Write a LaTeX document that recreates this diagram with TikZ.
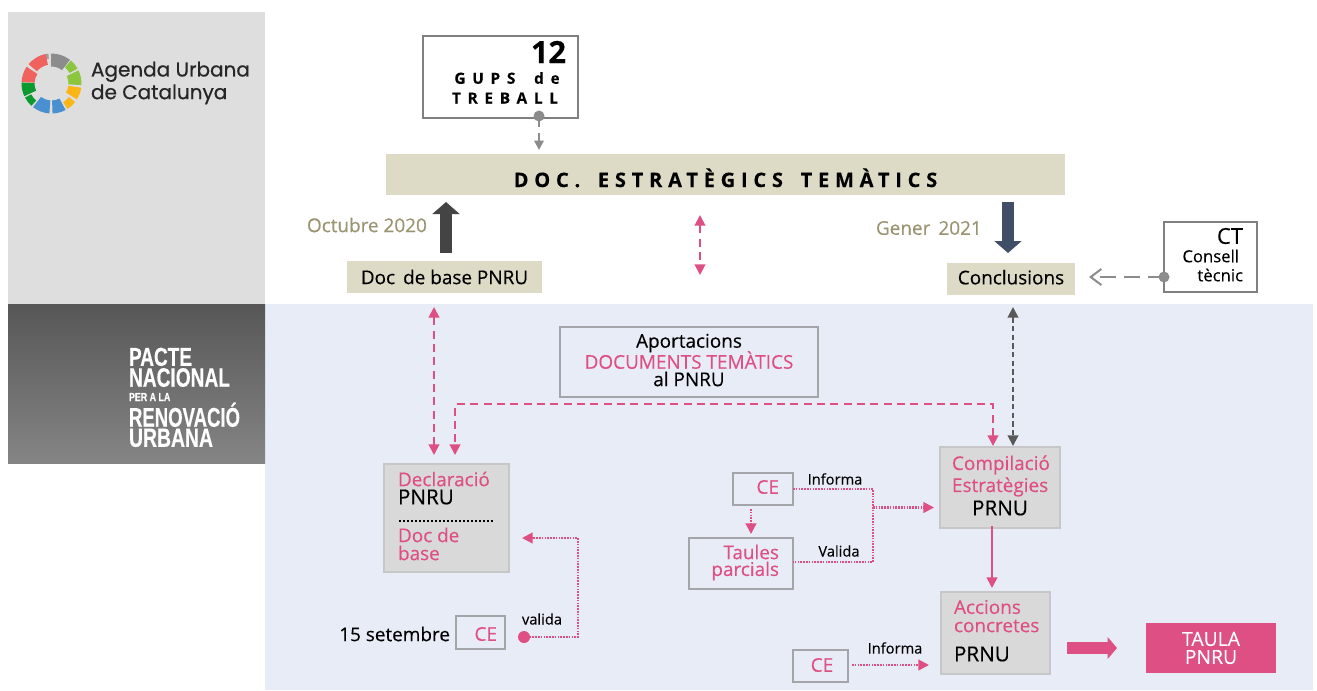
\documentclass[tikz,border=0pt]{standalone}
\usepackage{fontspec}
\setmainfont[FakeBold=0.25]{Open Sans}
\newfontfamily\logofont[FakeBold=0.6]{Poppins}
\newfontfamily\pactefont[FakeBold=0.5]{Liberation Sans}
\usetikzlibrary{arrows.meta,positioning,calc}
\definecolor{pinkc}{HTML}{DE4F83}
\definecolor{khaki}{HTML}{DDDAC5}
\definecolor{olivetext}{HTML}{9A9471}
\definecolor{boxgrey}{HTML}{D9D9D9}
\definecolor{edgegrey}{HTML}{A3A5A8}
\definecolor{bluebg}{HTML}{E8ECF6}
\definecolor{navyarrow}{HTML}{414E68}
\definecolor{darkarrow}{HTML}{444444}
\definecolor{connectgrey}{HTML}{8C8C8C}
\definecolor{logocoral}{HTML}{F0625D}
\definecolor{logolime}{HTML}{8CC63F}
\definecolor{logoorange}{HTML}{FBB515}
\definecolor{logoblue}{HTML}{4A8FD0}
\definecolor{logogreen}{HTML}{0A9A30}
\tikzset{
  every node/.style={inner sep=0pt,outer sep=0pt},
  outlined/.style={draw=edgegrey,line width=1.5pt},
  whitebox/.style={outlined,fill=white},
  bluebox/.style={outlined,fill=bluebg},
  greybox/.style={draw=black!22,line width=1pt,fill=boxgrey},
  khakibox/.style={fill=khaki},
  pinkbox/.style={fill=pinkc,text=white},
  dashpink/.style={draw=pinkc,line width=1.5pt,dash pattern=on 6pt off 4pt,{Triangle[width=8pt,length=8pt]}-{Triangle[width=8pt,length=8pt]}},
  dotpink/.style={draw=pinkc,line width=1.6pt,dash pattern=on 1.2pt off .9pt},
  pinktip/.style={-{Triangle[width=8pt,length=8pt]}},
  lbl/.style={font=\fontsize{14.2}{15}\selectfont,text=black},
  plbl/.style={font=\fontsize{14.2}{15}\selectfont,text=pinkc},
  prnu/.style={font=\fontsize{15.5}{16}\selectfont,text=black},
  small/.style={font=\fontsize{11}{12}\selectfont,text=black},
  yeartext/.style={font=\fontsize{14.2}{15}\selectfont,text=olivetext},
  pacteline/.style={anchor=south west,text=white,font=\pactefont\bfseries},
}
\newcommand{\bx}[7]{%
  \pgfmathsetmacro\cx{(#3+#5)/2}\pgfmathsetmacro\cy{(#4+#6)/2}%
  \pgfmathsetmacro\bw{(#5-#3)*0.75}\pgfmathsetmacro\bh{(#6-#4)*0.75}%
  \node[#1,minimum width=\bw pt,minimum height=\bh pt] (#2) at (\cx,\cy) {#7};}
\newcommand{\seg}[5]{%
  \fill[#1] (#2:#4) arc[start angle=#2,end angle=#3,radius=#4] -- (#3:#5) arc[start angle=#3,end angle=#2,radius=#5] -- cycle;}
\newcommand{\pline}[5]{\node[pacteline] (#1) at (129,#2) {\resizebox{#3pt}{#4pt}{#5}};}
\begin{document}
\begin{tikzpicture}[x=0.75pt,y=-0.75pt]
\useasboundingbox (0,0) rectangle (1317,690);
\fill[white] (0,0) rectangle (1317,690);
% panels
\fill[bluebg] (265,304) rectangle (1313,690);
\fill[black!13] (8,12) rectangle (265,304);
\shade[bottom color=black!48,top color=black!66] (8,304) rectangle (265,463);
% logo
\begin{scope}[shift={(51.5,83.5)},x=0.75pt,y=0.75pt]
\seg{connectgrey}{91}{52}{30}{17}
\seg{connectgrey!85}{96}{118}{30}{25}
\seg{logolime}{50}{30}{30}{21}
\seg{logolime}{26}{-3}{30}{17}
\seg{logoorange}{-8}{-32}{30}{17}
\seg{logoorange}{-38}{-58}{30}{22}
\seg{logoblue}{-62}{-88}{30}{17}
\seg{logoblue}{-94}{-128}{30}{17}
\seg{logogreen}{-132}{-152}{30}{23}
\seg{logogreen}{-155}{-182}{30}{17}
\seg{logocoral}{177}{146}{30}{17}
\seg{logocoral}{140}{101}{30}{19}
\end{scope}
\node[anchor=west,font=\logofont\fontsize{15}{16}\selectfont,text=black!85,align=left] (logotext) at (91,83) {Agenda Urbana\\[1pt]de Catalunya};
% pacte
\pline{pa}{366}{47.25}{13.5}{PACTE}
\pline{pb}{387}{75.75}{14}{NACIONAL}
\pline{pc}{401}{31}{6}{PER A LA}
\pline{pd}{427}{83.25}{18}{RENOVACIÓ}
\pline{pe}{447}{63}{13.5}{URBANA}
% top boxes
\bx{whitebox,draw=black!50,line width=1pt}{gups}{423}{36}{578}{118}{}
\node[anchor=east,font=\bfseries\fontsize{23}{24}\selectfont] (twelve) at (566,52) {12};
\node[font=\bfseries\fontsize{11.5}{12}\addfontfeature{LetterSpace=44}\selectfont] (gupsa) at (507,78) {GUPS\hspace{6pt} de};
\node[font=\bfseries\fontsize{11.5}{12}\addfontfeature{LetterSpace=44}\selectfont] (gupsb) at (505,98) {TREBALL};
\bx{khakibox,font=\bfseries\fontsize{15}{15}\addfontfeature{LetterSpace=29}\selectfont}{doc}{386}{154}{1065}{195}{\raisebox{-9.4pt}[0pt][0pt]{DOC.\hspace{5pt} ESTRATÈGICS\hspace{5pt} TEMÀTICS}}
\bx{khakibox,lbl}{base}{347}{261}{542}{293}{Doc\, de base PNRU}
\bx{khakibox,lbl}{concl}{947}{263}{1075}{295}{\raisebox{-4pt}[0pt][0pt]{Conclusions}}
\bx{whitebox,draw=black!50,line width=1pt}{ct}{1164}{222}{1257}{292}{}
\node[anchor=east,font=\fontsize{16.5}{16}\selectfont] (cta) at (1243,236) {CT};
\node[anchor=east,font=\fontsize{12.5}{14}\selectfont] (ctb) at (1239,256) {Consell};
\node[anchor=east,font=\fontsize{12.5}{14}\selectfont] (ctc) at (1243,275) {tècnic};
\node[anchor=west,yeartext] (oct) at (307,225) {Octubre 2020};
\node[anchor=west,yeartext] (gen) at (876,228) {Gener\, 2021};
% arrows top
\coordinate (gupsdot) at (539,116);
\coordinate (gupsend) at (539,150);
\fill[connectgrey] (gupsdot) circle (5.5);
\draw[connectgrey,line width=1.5pt,dash pattern=on 8pt off 5pt,-{Triangle[width=7pt,length=7pt]}] (gupsdot) -- (gupsend);
\coordinate (upfrom) at (446,253);
\coordinate (upto) at (446,202);
\draw[darkarrow,line width=9.5pt,-{Triangle[width=20pt,length=9pt]}] (upfrom) -- (upto);
\coordinate (downfrom) at (1008,202);
\coordinate (downto) at (1008,253);
\draw[navyarrow,line width=9.5pt,-{Triangle[width=20pt,length=9pt]}] (downfrom) -- (downto);
\coordinate (mida) at (700,215);
\coordinate (midb) at (700,275);
\draw[dashpink] (mida) -- (midb);
\coordinate (ctdot) at (1164,277);
\coordinate (ctend) at (1089,277);
\fill[connectgrey] (ctdot) circle (5.5);
\draw[connectgrey,line width=1.5pt,dash pattern=on 12pt off 6pt,-{Straight Barb[width=12pt,length=8pt]}] (ctdot) -- (ctend);
% lower boxes
\bx{bluebox}{aport}{560}{327}{818}{397}{}
\node[lbl] (apa) at (689,343) {Aportacions};
\node[plbl] (apb) at (689,360) {DOCUMENTS TEMÀTICS};
\node[lbl] (apc) at (689,379) {al PNRU};
\bx{greybox}{decl}{384}{464}{509}{572}{}
\node[anchor=west,plbl] (da) at (398,479) {Declaració};
\node[anchor=west,prnu] (db) at (398,497) {PNRU};
\draw[black,line width=1.5pt,dash pattern=on 1.5pt off 1.5pt] (398.5,521) -- (494,521);
\node[anchor=west,plbl] (dc) at (398,535) {Doc de};
\node[anchor=west,plbl] (dd) at (398,553) {base};
\bx{greybox}{comp}{940}{447}{1060}{528}{}
\node[anchor=west,plbl] (ca) at (952,465) {Compilació};
\node[anchor=west,plbl] (cb) at (952,487) {Estratègies};
\node[prnu] (cc) at (1000,508) {PRNU};
\bx{greybox}{acc}{941}{592}{1050}{674}{}
\node[anchor=west,plbl] (ac) at (954,607) {Accions};
\node[anchor=west,plbl] (ad) at (954,626) {concretes};
\node[anchor=west,prnu] (ae) at (954,654) {PRNU};
\bx{pinkbox,font=\fontsize{14.5}{16}\selectfont,align=center}{taula}{1146}{623}{1276}{673}{TAULA\\[-2.5pt]PNRU}
\bx{bluebox}{cea}{456}{616}{505}{649}{}
\node[anchor=east,plbl] (ceat) at (497,634) {CE};
\bx{bluebox}{ceb}{733}{473}{793}{505}{}
\node[anchor=east,plbl] (cebt) at (779,487) {CE};
\bx{bluebox}{cec}{793}{650}{848}{682}{}
\node[plbl] (cect) at (822,665) {CE};
\bx{bluebox}{tau}{689}{538}{793}{589}{}
\node[anchor=east,plbl] (taa) at (779,552) {Taules};
\node[anchor=east,plbl] (tab) at (779,571) {parcials};
\node[anchor=east,lbl] (sept) at (450,634) {15 setembre};
\node[small] (val) at (542,619) {valida};
\node[small] (inf) at (835,479) {Informa};
\node[small] (vld) at (839,551) {Valida};
\node[small] (infb) at (895,648) {Informa};
% dashed connectors
\coordinate (ua) at (434,307);
\coordinate (ub) at (434,455);
\draw[dashpink] (ua) -- (ub);
\coordinate (va) at (993,446);
\coordinate (vb) at (993,404);
\coordinate (vc) at (455,404);
\coordinate (vd) at (455,455);
\draw[dashpink] (va) -- (vb) -- (vc) -- (vd);
\coordinate (ga) at (1013,307);
\coordinate (gb) at (1013,446);
\draw[draw=black!65,line width=1.5pt,dash pattern=on 4pt off 2.5pt,{Triangle[width=8pt,length=8pt]}-{Triangle[width=8pt,length=8pt]}] (ga) -- (gb);
% dotted connectors
\coordinate (vdot) at (524,637);
\coordinate (vcorn) at (578,637);
\coordinate (vcornb) at (578,538);
\coordinate (vend) at (522,538);
\fill[pinkc] (vdot) circle (6);
\draw[dotpink,pinktip] (vdot) -- (vcorn) -- (vcornb) -- (vend);
\coordinate (jt) at (873,489);
\coordinate (jb) at (873,562);
\coordinate (jm) at (873,507.5);
\coordinate (jend) at (934,507.5);
\coordinate (cebout) at (793,489);
\coordinate (tauout) at (793,562);
\draw[dotpink] (cebout) -- (jt) -- (jb) -- (tauout);
\draw[dotpink,pinktip] (jm) -- (jend);
\coordinate (cebdown) at (751,509);
\coordinate (taunorth) at (751,534);
\draw[dotpink,pinktip] (cebdown) -- (taunorth);
\coordinate (cecout) at (852,665);
\coordinate (accin) at (929,665);
\draw[dotpink,pinktip] (cecout) -- (accin);
\coordinate (compdown) at (992,526);
\coordinate (accup) at (992,588);
\draw[pinkc,line width=1.5pt,pinktip] (compdown) -- (accup);
\coordinate (bigfrom) at (1067,648);
\coordinate (bigto) at (1117,648);
\draw[pinkc,line width=8.5pt,-{Triangle[width=16pt,length=7pt]}] (bigfrom) -- (bigto);
\end{tikzpicture}
\end{document}
